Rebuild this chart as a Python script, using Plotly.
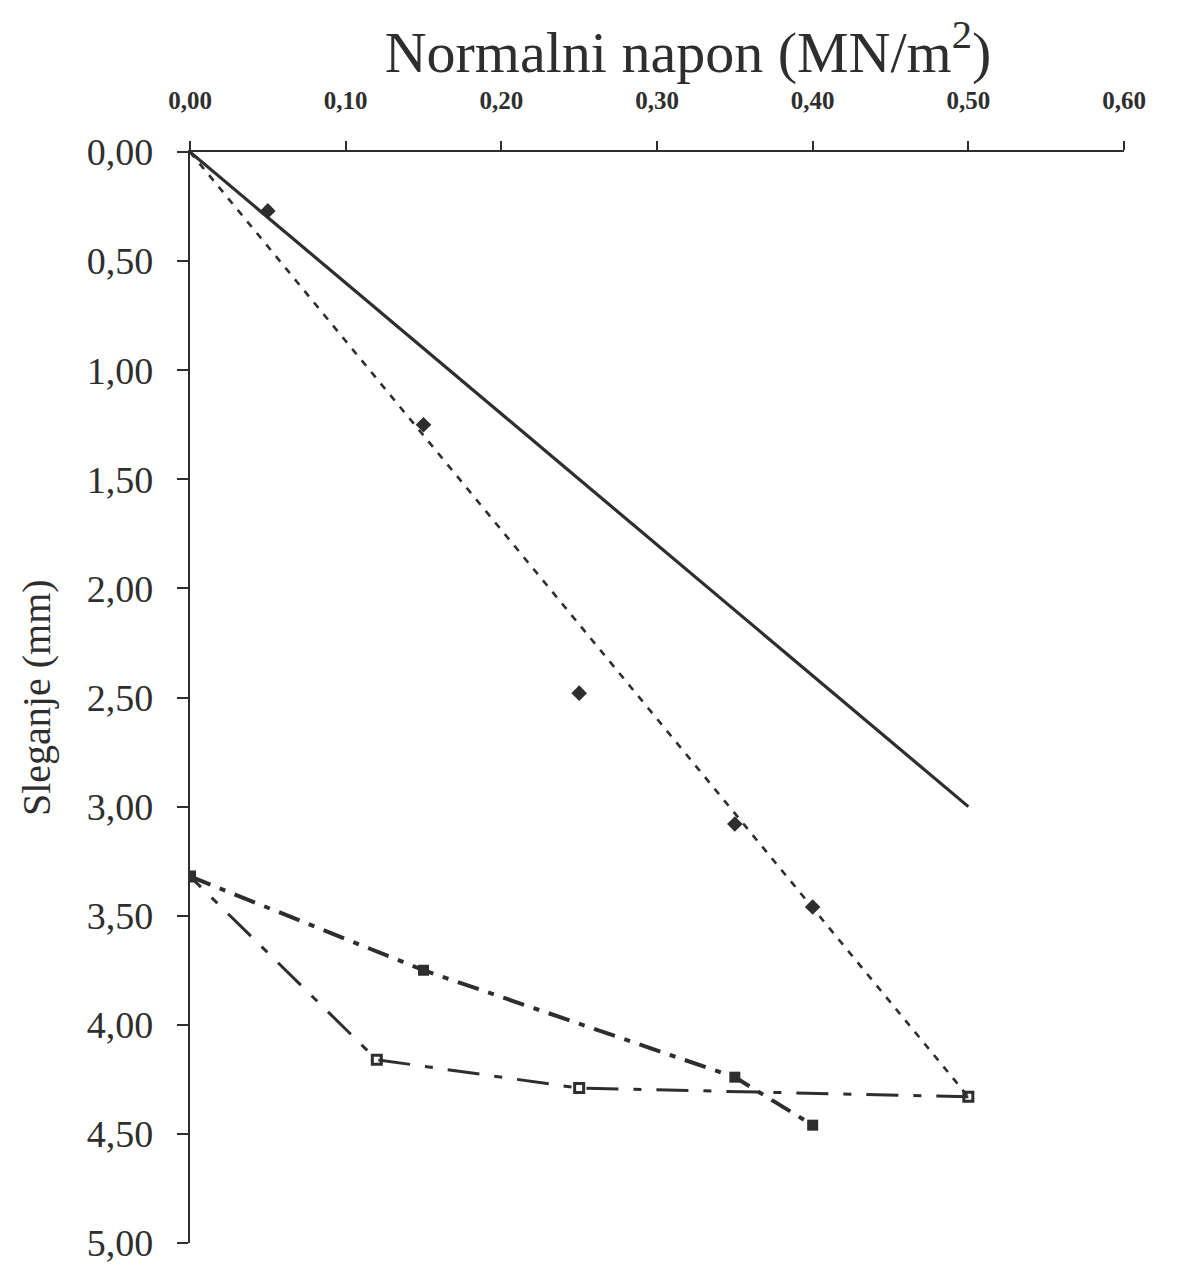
import plotly.graph_objects as go

# ---- data ----
x_ticks = [0.0, 0.1, 0.2, 0.3, 0.4, 0.5, 0.6]
x_ticktext = ["0,00", "0,10", "0,20", "0,30", "0,40", "0,50", "0,60"]
y_ticks = [0.0, 0.5, 1.0, 1.5, 2.0, 2.5, 3.0, 3.5, 4.0, 4.5, 5.0]
y_ticktext = ["0,00", "0,50", "1,00", "1,50", "2,00", "2,50", "3,00", "3,50", "4,00", "4,50", "5,00"]

# solid line (theoretical)
solid_x = [0.0, 0.50]
solid_y = [0.0, 3.00]

# dotted loading line
load_x = [0.0, 0.50]
load_y = [0.0, 4.33]

# measured points (diamonds) along loading
diam_x = [0.05, 0.15, 0.25, 0.35, 0.40]
diam_y = [0.27, 1.25, 2.48, 3.08, 3.46]

# unloading (long dash - dot)
unload_x = [0.50, 0.25, 0.12, 0.0]
unload_y = [4.33, 4.29, 4.16, 3.32]

# reloading (dash - dot, heavy)
reload_x = [0.0, 0.15, 0.35, 0.40]
reload_y = [3.32, 3.75, 4.24, 4.46]

INK = "#2e2e2e"
SERIF = "Liberation Serif"

fig = go.Figure()

fig.add_trace(go.Scatter(x=solid_x, y=solid_y, mode="lines",
                         line=dict(color=INK, width=3.2), showlegend=False))
fig.add_trace(go.Scatter(x=load_x, y=load_y, mode="lines",
                         line=dict(color=INK, width=2.6, dash="7px,8px"), showlegend=False))
fig.add_trace(go.Scatter(x=diam_x, y=diam_y, mode="markers",
                         marker=dict(symbol="diamond", size=12, color=INK), showlegend=False))
fig.add_trace(go.Scatter(x=unload_x, y=unload_y, mode="lines+markers",
                         line=dict(color=INK, width=3, dash="32px,15px,8px,15px"),
                         marker=dict(symbol="square-open", size=9, color=INK, line=dict(width=3, color=INK)),
                         showlegend=False))
fig.add_trace(go.Scatter(x=reload_x, y=reload_y, mode="lines+markers",
                         line=dict(color=INK, width=4, dash="22px,10px,6px,10px"),
                         marker=dict(symbol="square", size=11, color=INK),
                         showlegend=False))

fig.update_layout(
    width=1183, height=1267,
    margin=dict(l=190, r=59, t=152, b=24),
    paper_bgcolor="white", plot_bgcolor="white",
    title=dict(text="Normalni napon (MN/m<sup>2</sup>)",
               font=dict(family=SERIF, size=58, color=INK),
               x=688 / 1183, xanchor="center", y=1 - 52 / 1267, yanchor="middle"),
    xaxis=dict(range=[0, 0.6], side="top", tickvals=x_ticks, ticktext=x_ticktext,
               showgrid=False, zeroline=False, showline=True, linecolor=INK, linewidth=2.2,
               ticks="outside", ticklen=9, tickwidth=2, tickcolor=INK,
               ticklabelstandoff=22, ticklabeloverflow="allow", automargin=False,
               tickfont=dict(family=SERIF, size=25, color=INK, weight="bold")),
    yaxis=dict(range=[5, 0], tickvals=y_ticks, ticktext=y_ticktext,
               showgrid=False, zeroline=False, showline=True, linecolor=INK, linewidth=2.2,
               ticks="outside", ticklen=11, tickwidth=2, tickcolor=INK,
               ticklabelstandoff=16, ticklabeloverflow="allow", automargin=False,
               tickfont=dict(family=SERIF, size=38, color=INK)),
    xaxis2=dict(range=[0, 0.6], overlaying="x", side="top", anchor="y", automargin=False,
                tickvals=x_ticks, showticklabels=False, showgrid=False, zeroline=False,
                showline=False, ticks="inside", ticklen=12, tickwidth=2, tickcolor=INK),
    yaxis2=dict(range=[5, 0], overlaying="y", side="left", anchor="x", automargin=False,
                tickvals=y_ticks, showticklabels=False, showgrid=False, zeroline=False,
                showline=False, ticks="inside", ticklen=9, tickwidth=2, tickcolor=INK),
    annotations=[dict(text="Sleganje (mm)", textangle=-90, showarrow=False,
                      xref="paper", yref="paper",
                      x=(36 - 190) / 934, y=1 - (698 - 152) / 1091,
                      xanchor="center", yanchor="middle",
                      font=dict(family=SERIF, size=40, color=INK))],
)

fig.write_html("out.html")
